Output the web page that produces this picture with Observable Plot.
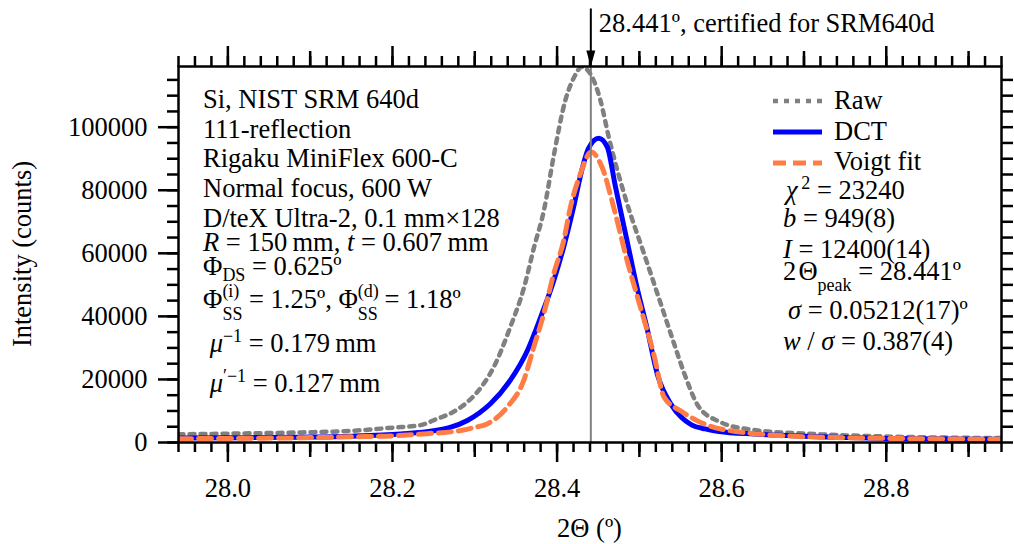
<!DOCTYPE html>
<html>
<head>
<meta charset="utf-8">
<script src="https://cdn.jsdelivr.net/npm/d3@7"></script>
<script src="https://cdn.jsdelivr.net/npm/@observablehq/plot@0.6"></script>
<style>
  html, body { margin: 0; padding: 0; background: #fff; overflow: hidden; }
  #chart svg text { font-family: "Liberation Serif", "Times New Roman", serif; fill: #000; }
</style>
</head>
<body>
<div id="chart"></div>
<script>
// Si 111 reflection profile: diffraction angle 2Θ (degrees) and intensity (counts)
const rawTwoTheta = [27.94, 28.00, 28.09, 28.15, 28.20, 28.234, 28.254, 28.271, 28.290, 28.303, 28.323, 28.343,
  28.360, 28.372, 28.384, 28.396, 28.410, 28.421, 28.430, 28.4405, 28.4527, 28.4627, 28.4848, 28.5055, 28.526,
  28.5426, 28.5551, 28.5717, 28.5964, 28.638, 28.72, 28.80, 28.94];
const rawCounts = [2600, 2800, 3200, 3700, 4700, 5500, 7500, 9300, 12600, 16000, 23900, 36500,
  49300, 61900, 73600, 91000, 108500, 116000, 119100, 116900, 108500, 97000, 76000, 60000, 44000,
  31000, 21500, 11500, 6700, 4000, 2600, 1900, 1400];

const dctTwoTheta = [27.94, 28.00, 28.09, 28.15, 28.21, 28.25, 28.27, 28.291, 28.305, 28.319, 28.343, 28.364,
  28.380, 28.396, 28.408, 28.420, 28.430, 28.438, 28.4506, 28.461, 28.471, 28.485, 28.497, 28.509, 28.522,
  28.5385, 28.551, 28.5634, 28.58, 28.5964, 28.64, 28.68, 28.80, 28.94];
const dctCounts = [1400, 1500, 1700, 2000, 2700, 3700, 4800, 7000, 9300, 12300, 19700, 29200,
  39700, 51400, 62000, 74600, 86300, 93200, 96500, 93700, 81000, 64000, 49300, 36600, 21500,
  12100, 8000, 5600, 4300, 3500, 2700, 2200, 1300, 1000];

const voigtTwoTheta = [27.94, 28.00, 28.09, 28.15, 28.20, 28.242, 28.283, 28.300, 28.315, 28.3393, 28.3595,
  28.3716, 28.3838, 28.3959, 28.4081, 28.4162, 28.4283, 28.4413, 28.4547, 28.4688, 28.4851, 28.5013, 28.5174,
  28.5302, 28.551, 28.5717, 28.6171, 28.72, 28.94];
const voigtCounts = [1200, 1300, 1500, 1800, 2100, 2800, 3800, 4800, 5900, 11200, 19700,
  30200, 40800, 53500, 64100, 74600, 85200, 92100, 87300, 74600, 57700, 42900, 28100,
  14300, 9900, 6700, 3500, 1700, 1000];

const seriesNames = ["Raw", "DCT", "Voigt fit"];

// certified peak position and its callout
const certifiedPeak = 28.441;
const certifiedLabel = "28.441º, certified for SRM640d";
const calloutTop = 137500;     // counts, top of the arrow shaft
const calloutLabelAt = 133000; // counts, vertical position of the callout text

// axis extents and ticks
const xDomain = [27.94, 28.94];
const yDomain = [0, 119250];
const xMajorTicks = [28.0, 28.2, 28.4, 28.6, 28.8];
const xMidTicks = [28.1, 28.3, 28.5, 28.7, 28.9];
const xMinorTicks = d3.range(1397, 1448).map(i => i / 50);
const yMajorTicks = [0, 20000, 40000, 60000, 80000, 100000];
const yMinorTicks = d3.range(0, 119000, 5000);
const xAxisLabel = "2Θ (º)";
const yAxisLabel = "Intensity (counts)";

// measurement conditions (left) and fit results (right)
const conditionLines = [
  ["Si, NIST SRM 640d"],
  ["111-reflection"],
  ["Rigaku MiniFlex 600-C"],
  ["Normal focus, 600 W"],
  ["D/teX Ultra-2, 0.1 mm×128"],
  [{i: "R"}, " = 150\u2009mm, ", {i: "t"}, " = 0.607\u2009mm"],
  ["Φ", {sub: "DS"}, " = 0.625º"],
  ["Φ", {sup: "(i)", sub: "SS"}, " = 1.25º, Φ", {sup: "(d)", sub: "SS"}, " = 1.18º"],
  [" ", {i: "μ"}, {sup: "−1"}, " = 0.179\u2009mm"],
  [" ", {i: "μ"}, {sup: "′−1"}, " = 0.127\u2009mm"]
];
const fitLines = [
  [{i: "χ"}, {sup: "\u20092"}, " = 23240"],
  [{i: "b"}, " = 949(8)"],
  [{i: "I"}, " = 12400(14)"],
  ["2\u200aΘ", {sub: "peak", drop: 11}, " = 28.441º"],
  [{i: "σ"}, " = 0.05212(17)º"],
  [{i: "w"}, " / ", {i: "σ"}, " = 0.387(4)"]
];

// ---- layout & styles ----
const FONT = "'Liberation Serif', 'Times New Roman', serif";
const FS = 26.5, FS_SCRIPT = 18;
const seriesStyle = {
  "Raw": {stroke: "#808080", strokeWidth: 4.5, dash: "5,6"},
  "DCT": {stroke: "#0000ff", strokeWidth: 5, dash: null},
  "Voigt fit": {stroke: "#ff7d45", strokeWidth: 5, dash: "13,7"}
};
const leftLayout = {dx: 25, baselines: [42, 72, 101, 131, 161, 185, 209, 242, 286, 326]};
const legendLayout = {lineX1: -228, lineX2: -179, textX: -167, lineY: [35, 66, 97], textY: [43, 74, 104]};
const fitLayout = {x: -218, indent: [3, 0, 0, 0, 5, 0], baselines: [133, 161, 192, 214, 253, 284]};
const titleLayout = {yTitleX: 23, xTitleBaseline: 95};

// Times-metric advance widths (em) used to stack sub/superscripts
const charEm = {"(": 0.333, ")": 0.333, "i": 0.278, "d": 0.5};
const emWidth = s => [...s].reduce((w, c) => w + (charEm[c] ?? 0.5), 0);

function appendRich(text, segs) {
  let shift = 0;
  const put = (str, {offset = 0, size, italic, dx} = {}) => {
    const ts = text.append("tspan").text(str);
    if (offset !== shift) { ts.attr("dy", offset - shift); shift = offset; }
    if (size) ts.attr("font-size", size);
    if (italic) ts.attr("font-style", "italic");
    if (dx) ts.attr("dx", dx);
  };
  for (const s of segs) {
    if (typeof s === "string") put(s);
    else if (s.sup !== undefined && s.sub !== undefined) {
      put(s.sup, {offset: -11, size: FS_SCRIPT});
      put(s.sub, {offset: 12, size: FS_SCRIPT, dx: -emWidth(s.sup) * FS_SCRIPT});
    } else if (s.sup !== undefined) put(s.sup, {offset: -10, size: FS_SCRIPT});
    else if (s.sub !== undefined) put(s.sub, {offset: s.drop ?? 6, size: FS_SCRIPT});
    else if (s.i !== undefined) put(s.i, {italic: true});
  }
}

function newTextGroup() {
  return d3.create("svg:g")
    .attr("font-family", FONT).attr("font-size", FS)
    .attr("fill", "black").attr("text-anchor", "start");
}

// text block: sample and instrument description
const conditionsMark = (index, scales, values, dim) => {
  const g = newTextGroup();
  conditionLines.forEach((segs, k) => {
    const t = g.append("text")
      .attr("x", dim.marginLeft + leftLayout.dx)
      .attr("y", dim.marginTop + leftLayout.baselines[k]);
    appendRich(t, segs);
  });
  return g.node();
};

// legend plus fitted parameters
const legendMark = (index, scales, values, dim) => {
  const g = newTextGroup();
  const right = dim.width - dim.marginRight;
  seriesNames.forEach((name, k) => {
    const st = seriesStyle[name];
    g.append("line")
      .attr("x1", right + legendLayout.lineX1).attr("x2", right + legendLayout.lineX2)
      .attr("y1", dim.marginTop + legendLayout.lineY[k]).attr("y2", dim.marginTop + legendLayout.lineY[k])
      .attr("stroke", st.stroke).attr("stroke-width", st.strokeWidth)
      .attr("stroke-dasharray", st.dash);
    g.append("text")
      .attr("x", right + legendLayout.textX)
      .attr("y", dim.marginTop + legendLayout.textY[k])
      .text(name);
  });
  fitLines.forEach((segs, k) => {
    const t = g.append("text")
      .attr("x", right + fitLayout.x + fitLayout.indent[k])
      .attr("y", dim.marginTop + fitLayout.baselines[k]);
    appendRich(t, segs);
  });
  return g.node();
};

// axis titles, centred on the frame
const titlesMark = (index, scales, values, dim) => {
  const g = newTextGroup().attr("text-anchor", "middle");
  const midY = (dim.marginTop + dim.height - dim.marginBottom) / 2;
  const midX = (dim.marginLeft + dim.width - dim.marginRight) / 2;
  g.append("text")
    .attr("transform", `translate(${titleLayout.yTitleX},${midY}) rotate(-90)`)
    .attr("dy", "0.32em")
    .text(yAxisLabel);
  g.append("text")
    .attr("x", midX)
    .attr("y", dim.height - dim.marginBottom + titleLayout.xTitleBaseline)
    .text(xAxisLabel);
  return g.node();
};

const rows = (xs, ys) => xs.map((x, i) => ({x, y: ys[i]}));
const profiles = {
  "Raw": rows(rawTwoTheta, rawCounts),
  "DCT": rows(dctTwoTheta, dctCounts),
  "Voigt fit": rows(voigtTwoTheta, voigtCounts)
};
const callout = [{x: certifiedPeak, from: calloutTop, to: yDomain[1], label: calloutLabelAt}];

// narrow filled arrowhead whose tip sits on the anchor point
const arrowHead = {
  draw(context) {
    context.moveTo(0, 0);
    context.lineTo(-4.5, -16);
    context.lineTo(4.5, -16);
    context.closePath();
  }
};

const tickStyle = {strokeWidth: 2.5, label: null, fontSize: FS};
const noText = () => "";

const chart = Plot.plot({
  width: 1014,
  height: 544,
  marginLeft: 178,
  marginRight: 13,
  marginTop: 66,
  marginBottom: 102,
  style: {fontFamily: FONT, fontSize: FS + "px", color: "black", background: "white"},
  x: {domain: xDomain, label: null},
  y: {domain: yDomain, label: null},
  marks: [
    // bottom axis
    Plot.axisX({anchor: "bottom", ticks: xMajorTicks, tickSize: 20, tickPadding: 16, tickFormat: d3.format(".1f"), ...tickStyle}),
    Plot.axisX({anchor: "bottom", ticks: xMidTicks, tickSize: 15, tickFormat: noText, ...tickStyle}),
    Plot.axisX({anchor: "bottom", ticks: xMinorTicks, tickSize: 10, tickFormat: noText, ...tickStyle}),
    // top axis
    Plot.axisX({anchor: "top", ticks: xMajorTicks, tickSize: 21, tickFormat: noText, ...tickStyle}),
    Plot.axisX({anchor: "top", ticks: xMidTicks, tickSize: 16, tickFormat: noText, ...tickStyle}),
    Plot.axisX({anchor: "top", ticks: xMinorTicks, tickSize: 11, tickFormat: noText, ...tickStyle}),
    // left axis
    Plot.axisY({anchor: "left", ticks: yMajorTicks, tickSize: 20, tickPadding: 11, tickFormat: d3.format("d"), ...tickStyle}),
    Plot.axisY({anchor: "left", ticks: yMinorTicks, tickSize: 11, tickFormat: noText, ...tickStyle}),
    // right axis
    Plot.axisY({anchor: "right", ticks: yMinorTicks, tickSize: 11, tickFormat: noText, ...tickStyle}),
    // profiles
    ...seriesNames.map(name => Plot.line(profiles[name], {
      x: "x", y: "y", curve: "monotone-x", clip: true,
      stroke: seriesStyle[name].stroke,
      strokeWidth: seriesStyle[name].strokeWidth,
      strokeDasharray: seriesStyle[name].dash
    })),
    // certified peak position
    Plot.ruleX(callout, {x: "x", stroke: "#808080", strokeWidth: 2}),
    Plot.ruleX(callout, {x: "x", y1: "from", y2: "to", stroke: "black", strokeWidth: 2}),
    Plot.dot(callout, {x: "x", y: "to", symbol: arrowHead, fill: "black", stroke: null}),
    Plot.text(callout, {x: "x", y: "label", text: () => certifiedLabel, textAnchor: "start", dx: 8, fontSize: FS}),
    // annotations and titles
    conditionsMark,
    legendMark,
    titlesMark,
    Plot.frame({stroke: "black", strokeWidth: 2.5})
  ]
});

document.getElementById("chart").append(chart);
</script>
</body>
</html>
